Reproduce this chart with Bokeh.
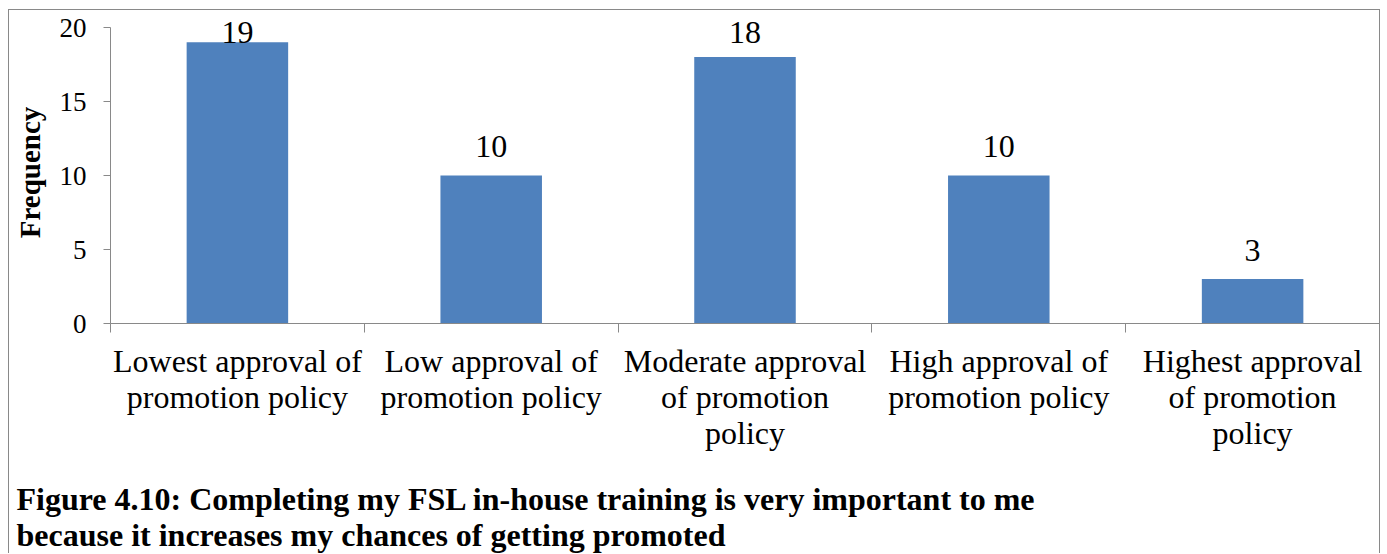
from bokeh.plotting import figure
from bokeh.models import Range1d, FixedTicker, LinearAxis, ColumnDataSource, LabelSet, Title
from bokeh.embed import file_html
from bokeh.resources import INLINE

# ---- data ----
categories = [
    "Lowest approval of promotion policy",
    "Low approval of promotion policy",
    "Moderate approval of promotion policy",
    "High approval of promotion policy",
    "Highest approval of promotion policy",
]
tick_labels = [
    "Lowest approval of\npromotion policy",
    "Low approval of\npromotion policy",
    "Moderate approval\nof promotion\npolicy",
    "High approval of\npromotion policy",
    "Highest approval\nof promotion\npolicy",
]
frequency = [19, 10, 18, 10, 3]
y_ticks = [0, 5, 10, 15, 20]
y_label = "Frequency"
caption = ("Figure 4.10: Completing my FSL in-house training is very important to me\n"
           "because it increases my chances of getting promoted")

FONT = "Liberation Serif"
GREY = "#898989"
BLUE = "#4F81BD"
Y_AXIS_MAX = 20

W, H = 1372, 544
TOP = 11                 # frame starts at canvas row 11
FRAME_H = 302            # frame spans canvas rows 11..313
AXIS_TOP_PX = 6          # where the value 20 sits inside the frame
y_view_max = Y_AXIS_MAX * FRAME_H / (FRAME_H - AXIS_TOP_PX)

n = len(categories)
centers = [i + 0.5 for i in range(n)]
# Excel keeps the data labels inside the plot area
label_y = [min(v + 1.25, Y_AXIS_MAX - 1.08) for v in frequency]

src = ColumnDataSource(dict(x=centers, top=frequency, ly=label_y,
                            txt=[str(v) for v in frequency]))

border_css = f"1px solid {GREY}"
p = figure(width=W, height=H, x_range=Range1d(0, n), y_range=Range1d(0, y_view_max),
           output_backend="svg", toolbar_location=None,
           x_axis_location=None, y_axis_location=None,
           min_border_left=101, min_border_right=2, min_border_top=TOP,
           min_border_bottom=H - TOP - FRAME_H,
           styles={"margin-left": "8px", "margin-top": "9px",
                   "border-left": border_css, "border-top": border_css,
                   "border-right": border_css})
p.outline_line_color = None
p.background_fill_color = "white"
p.border_fill_color = "white"

p.vbar(x="x", top="top", width=0.4, bottom=0, source=src, fill_color=BLUE, line_color=None)

labels = LabelSet(x="x", y="ly", text="txt", source=src, text_align="center",
                  text_baseline="alphabetic", text_font=FONT, text_font_size="32px",
                  text_color="black")
p.add_layout(labels)

# y axis
yax = LinearAxis(ticker=FixedTicker(ticks=y_ticks), bounds=(0, Y_AXIS_MAX))
yax.axis_line_color = GREY
yax.major_tick_line_color = GREY
yax.major_tick_out = 7
yax.major_tick_in = 0
yax.minor_tick_line_color = None
yax.major_label_text_font = FONT
yax.major_label_text_font_size = "27px"
yax.major_label_text_color = "black"
yax.major_label_standoff = 17
yax.axis_label = y_label
yax.axis_label_text_font = FONT
yax.axis_label_text_font_size = "29px"
yax.axis_label_text_font_style = "bold"
yax.axis_label_text_color = "black"
yax.axis_label_standoff = 11
p.add_layout(yax, "left")

# x axis: labels at category centres, ticks at category boundaries
xax = LinearAxis(ticker=FixedTicker(ticks=centers, minor_ticks=list(range(n + 1))))
xax.major_label_overrides = {c: t for c, t in zip(centers, tick_labels)}
xax.axis_line_color = GREY
xax.major_tick_line_color = None
xax.major_tick_out = 0
xax.major_tick_in = 0
xax.minor_tick_line_color = GREY
xax.minor_tick_out = 9
xax.minor_tick_in = 0
xax.major_label_text_font = FONT
xax.major_label_text_font_size = "32px"
xax.major_label_text_color = "black"
xax.major_label_text_line_height = 1.0
xax.major_label_standoff = 10
p.add_layout(xax, "below")

p.xgrid.visible = False
p.ygrid.visible = False

# empty gap between the category labels and the caption
spacer = Title(text=" ", text_font_size="1px", standoff=22)
p.add_layout(spacer, "below")

title = Title(text=caption, align="left", text_font=FONT, text_font_size="32px",
              text_font_style="bold", text_color="black", offset=-94, standoff=0,
              text_line_height=1.0)
p.add_layout(title, "below")

open("out.html", "w").write(file_html(p, INLINE))
